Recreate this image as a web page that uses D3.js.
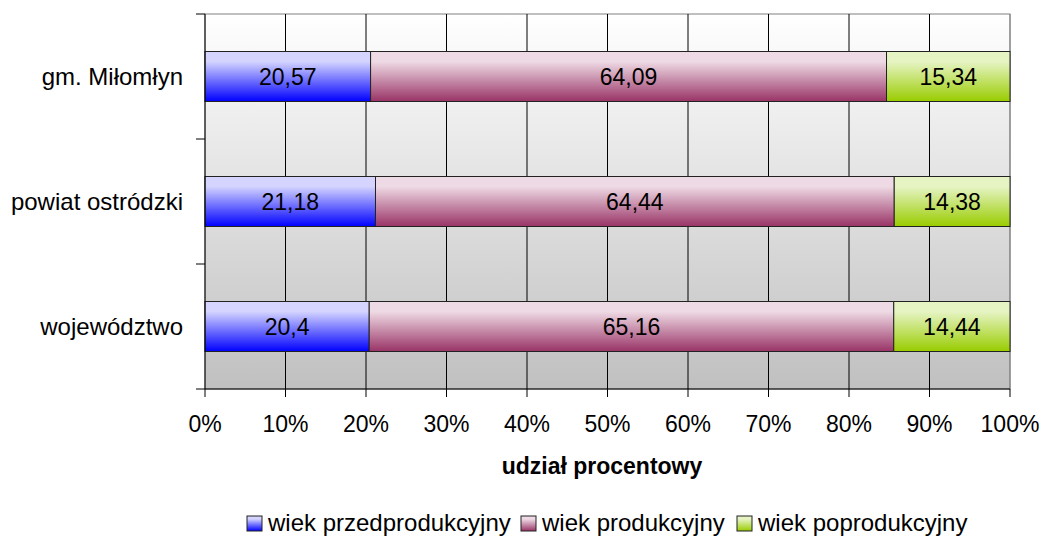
<!DOCTYPE html>
<html>
<head>
<meta charset="utf-8">
<script src="https://cdn.jsdelivr.net/npm/d3@7"></script>
<style>
body { margin: 0; background: #fff; }
svg text { font-family: "Liberation Sans", Arial, sans-serif; fill: #000; }
</style>
</head>
<body>
<svg width="1042" height="541"></svg>
<script>
// data
var categories = ["gm. Miłomłyn", "powiat ostródzki", "województwo"];
var seriesNames = ["wiek przedprodukcyjny", "wiek produkcyjny", "wiek poprodukcyjny"];
var przed = [20.57, 21.18, 20.4];
var prod = [64.09, 64.44, 65.16];
var popr = [15.34, 14.38, 14.44];
var xTicks = [0, 10, 20, 30, 40, 50, 60, 70, 80, 90, 100];

var colors = [
  {light: "#d4d4ff", dark: "#0000ff"},
  {light: "#eedae4", dark: "#993366"},
  {light: "#e6f4c4", dark: "#99cc00"}
];

var svg = d3.select("svg");
var pLeft = 205, pRight = 1010, pTop = 14, pBottom = 389;

var x = d3.scaleLinear().domain([0, 100]).range([pLeft, pRight]);
var y = d3.scaleBand().domain(categories).range([pTop, pBottom]).paddingInner(0.6).paddingOuter(0.3);
var yb = d3.scaleBand().domain(categories).range([pTop, pBottom]);

var defs = svg.append("defs");
var bg = defs.append("linearGradient").attr("id", "bg").attr("x1", 0).attr("y1", 0).attr("x2", 0).attr("y2", 1);
bg.append("stop").attr("offset", "0%").attr("stop-color", "#ffffff");
bg.append("stop").attr("offset", "100%").attr("stop-color", "#c0c0c0");

colors.forEach(function(c, i) {
  var g = defs.append("linearGradient").attr("id", "g" + i).attr("x1", 0).attr("y1", 0).attr("x2", 0).attr("y2", 1);
  g.append("stop").attr("offset", "0%").attr("stop-color", c.light);
  g.append("stop").attr("offset", "20%").attr("stop-color", c.light);
  g.append("stop").attr("offset", "100%").attr("stop-color", c.dark);
});

// plot background
svg.append("rect").attr("x", pLeft).attr("y", pTop).attr("width", pRight - pLeft).attr("height", pBottom - pTop)
  .attr("fill", "url(#bg)").attr("stroke", "#808080");

// vertical grid
svg.append("g").selectAll("line").data(xTicks.slice(1)).enter().append("line")
  .attr("x1", function(d) { return x(d); }).attr("x2", function(d) { return x(d); })
  .attr("y1", pTop).attr("y2", pBottom)
  .attr("stroke", function(d) { return d == 100 ? "#808080" : "#000"; }).attr("stroke-width", 1);

// stacked bars
var stackData = categories.map(function(c, i) {
  return {cat: c, p0: przed[i], p1: prod[i], p2: popr[i]};
});
var stack = d3.stack().keys(["p0", "p1", "p2"]);
var layers = stack(stackData);
var series = [przed, prod, popr];

layers.forEach(function(layer, si) {
  var g = svg.append("g");
  g.selectAll("rect").data(layer).enter().append("rect")
    .attr("x", function(d) { return x(d[0]); })
    .attr("y", function(d) { return y(d.data.cat); })
    .attr("width", function(d) { return x(d[1]) - x(d[0]); })
    .attr("height", y.bandwidth())
    .attr("fill", "url(#g" + si + ")")
    .attr("stroke", "#222").attr("stroke-width", 1);
  g.selectAll("text").data(layer).enter().append("text")
    .attr("x", function(d) { return (x(d[0]) + x(d[1])) / 2; })
    .attr("y", function(d) { return y(d.data.cat) + y.bandwidth() / 2 + 8; })
    .attr("text-anchor", "middle").style("font-size", "23px")
    .text(function(d, i) { return String(series[si][i]).replace(".", ","); });
});

// y axis
svg.append("line").attr("x1", pLeft).attr("x2", pLeft).attr("y1", pTop).attr("y2", pBottom).attr("stroke", "#000");
var yTickPos = categories.map(function(c) { return yb(c); }).concat([pBottom]);
svg.append("g").selectAll("line").data(yTickPos).enter().append("line")
  .attr("x1", pLeft - 9).attr("x2", pLeft).attr("y1", function(d) { return d; }).attr("y2", function(d) { return d; })
  .attr("stroke", "#000");
svg.append("g").selectAll("text").data(categories).enter().append("text")
  .attr("x", 183).attr("y", function(d) { return y(d) + y.bandwidth() / 2 + 8; })
  .attr("text-anchor", "end").style("font-size", "24px").text(function(d) { return d; });

// x axis
svg.append("line").attr("x1", pLeft).attr("x2", pRight).attr("y1", pBottom).attr("y2", pBottom).attr("stroke", "#000");
svg.append("g").selectAll("line").data(xTicks).enter().append("line")
  .attr("x1", function(d) { return x(d); }).attr("x2", function(d) { return x(d); })
  .attr("y1", pBottom).attr("y2", pBottom + 8).attr("stroke", "#000");
svg.append("g").selectAll("text").data(xTicks).enter().append("text")
  .attr("x", function(d) { return x(d); }).attr("y", 432)
  .attr("text-anchor", "middle").style("font-size", "23px").text(function(d) { return d + "%"; });

svg.append("text").attr("x", 602).attr("y", 474).attr("text-anchor", "middle")
  .style("font-size", "23px").style("font-weight", "bold").text("udział procentowy");

// legend
var legX = [247, 521, 737];
var leg = svg.append("g").selectAll("g").data(seriesNames).enter().append("g")
  .attr("transform", function(d, i) { return "translate(" + legX[i] + ",516)"; });
leg.append("rect").attr("width", 15).attr("height", 15).attr("fill", function(d, i) { return "url(#g" + i + ")"; })
  .attr("stroke", "#222");
leg.append("text").attr("x", 21).attr("y", 15).style("font-size", "24px")
  .text(function(d) { return d; });
</script>
</body>
</html>
